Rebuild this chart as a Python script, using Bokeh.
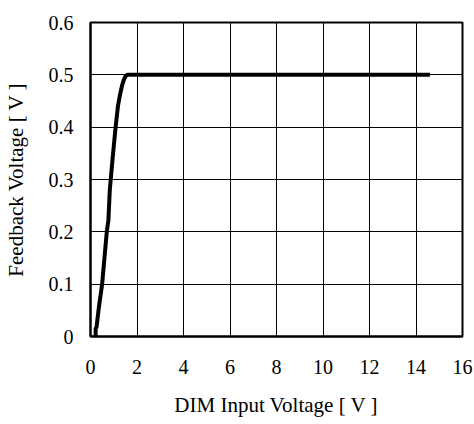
from bokeh.plotting import figure
from bokeh.models import Range1d, FixedTicker
from bokeh.embed import file_html
from bokeh.resources import INLINE

dim_v = [0.22, 0.22, 0.26, 0.36, 0.50, 0.60, 0.70, 0.77, 0.83, 0.95, 1.08, 1.18, 1.26, 1.36, 1.43, 1.50, 1.58, 1.75, 14.6]
fb_v = [0.0, 0.015, 0.018, 0.056, 0.10, 0.15, 0.20, 0.222, 0.28, 0.34, 0.40, 0.44, 0.46, 0.48, 0.49, 0.497, 0.50, 0.50, 0.50]

x_ticks = [0, 2, 4, 6, 8, 10, 12, 14, 16]
y_ticks = [0, 0.1, 0.2, 0.3, 0.4, 0.5, 0.6]
y_tick_labels = {0: "0", 0.1: "0.1", 0.2: "0.2", 0.3: "0.3", 0.4: "0.4", 0.5: "0.5", 0.6: "0.6"}

FONT = "Liberation Serif"

p = figure(width=474, height=424, output_backend="svg", toolbar_location=None,
           x_range=Range1d(0, 16), y_range=Range1d(0, 0.6),
           min_border_left=90, min_border_right=12, min_border_top=22, min_border_bottom=88)
p.background_fill_color = "white"
p.border_fill_color = "white"
p.outline_line_color = "black"
p.outline_line_width = 2
p.outline_line_alpha = 1

p.line(dim_v, fb_v, line_color="black", line_width=4)

for ax in (p.xaxis[0], p.yaxis[0]):
    ax.major_label_text_font = FONT
    ax.major_label_text_font_size = "20px"
    ax.major_label_text_color = "black"
    ax.axis_label_text_font = FONT
    ax.axis_label_text_font_size = "21px"
    ax.axis_label_text_font_style = "normal"
    ax.axis_label_text_color = "black"
    ax.major_tick_out = 0
    ax.major_tick_in = 0
    ax.minor_tick_out = 0
    ax.minor_tick_in = 0
    ax.axis_line_color = "black"
    ax.axis_line_width = 2

p.xaxis.ticker = FixedTicker(ticks=x_ticks)
p.yaxis.ticker = FixedTicker(ticks=y_ticks)
p.yaxis.major_label_overrides = y_tick_labels
p.xaxis.axis_label = "DIM Input Voltage [ V ]"
p.yaxis.axis_label = "Feedback Voltage [ V ]"
p.xaxis.major_label_standoff = 23
p.yaxis.major_label_standoff = 17
p.xaxis.axis_label_standoff = 16
p.yaxis.axis_label_standoff = 18

p.xgrid.grid_line_color = "black"
p.ygrid.grid_line_color = "black"
p.xgrid.grid_line_width = 1
p.ygrid.grid_line_width = 1

open("out.html", "w").write(file_html(p, INLINE))
